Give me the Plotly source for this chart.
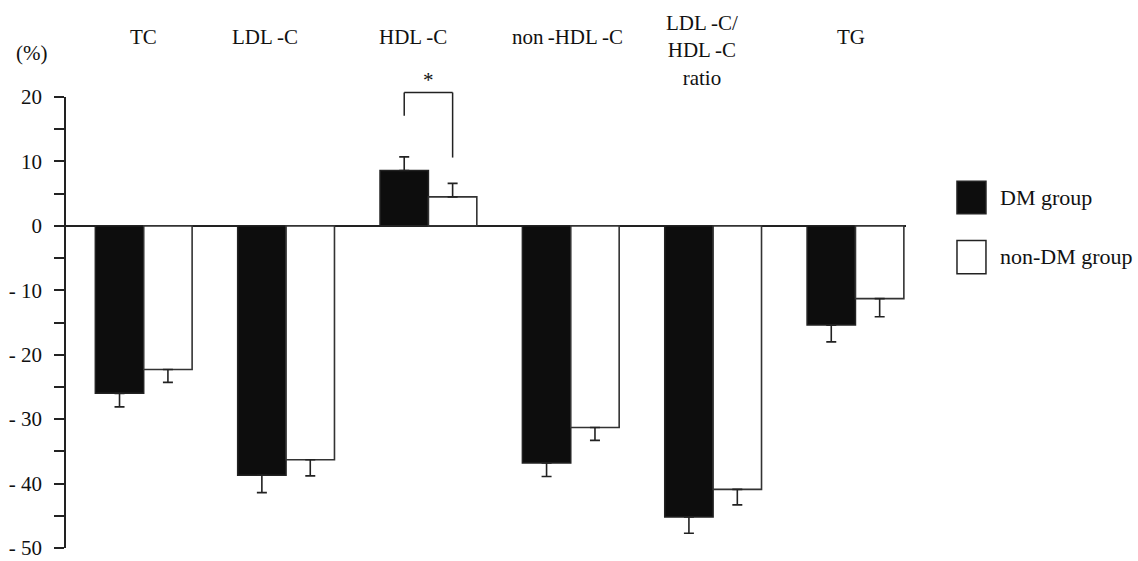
import plotly.graph_objects as go

categories = ["TC", "LDL-C", "HDL-C", "non-HDL-C", "LDL-C/HDL-C ratio", "TG"]
label_texts = ["TC", "LDL\u2009-C", "HDL\u2009-C", "non\u2009-HDL\u2009-C",
               "LDL\u2009-C/<br>HDL\u2009-C<br>ratio", "TG"]
dm_values = [-26.0, -38.7, 8.6, -36.8, -45.2, -15.4]
dm_errors = [2.1, 2.7, 2.1, 2.1, 2.5, 2.6]
nondm_values = [-22.3, -36.3, 4.5, -31.3, -40.9, -11.3]
nondm_errors = [2.0, 2.5, 2.1, 2.0, 2.4, 2.8]
y_ticks = [20, 10, 0, -10, -20, -30, -40, -50]
y_ticktext = ["20", "10", "0", "- 10", "- 20", "- 30", "- 40", "- 50"]
Y_MIN, Y_MAX = -50, 20

FONT = "Liberation Serif, Times New Roman, DejaVu Serif, serif"


def one_sided(values, errors):
    up = [e if v > 0 else 0 for v, e in zip(values, errors)]
    down = [e if v < 0 else 0 for v, e in zip(values, errors)]
    return up, down


dm_up, dm_down = one_sided(dm_values, dm_errors)
nd_up, nd_down = one_sided(nondm_values, nondm_errors)

xs = list(range(len(categories)))

fig = go.Figure()
fig.add_trace(go.Bar(
    x=xs, y=dm_values, name="DM group",
    marker=dict(color="#0d0d0d", line=dict(color="#222222", width=1.5)),
    error_y=dict(type="data", symmetric=False, array=dm_up, arrayminus=dm_down,
                 color="#222222", thickness=1.6, width=5),
    showlegend=False,
))
fig.add_trace(go.Bar(
    x=xs, y=nondm_values, name="non-DM group",
    marker=dict(color="#ffffff", line=dict(color="#333333", width=1.6)),
    error_y=dict(type="data", symmetric=False, array=nd_up, arrayminus=nd_down,
                 color="#222222", thickness=1.6, width=5),
    showlegend=False,
))

# category labels on top
label_shift = [0, -21, -15, -3, -11, -4]
label_y = [1.132, 1.132, 1.132, 1.132, 1.104, 1.132]
for i, (t, sh, ly) in enumerate(zip(label_texts, label_shift, label_y)):
    fig.add_annotation(x=xs[i], y=ly, xref="x", yref="paper", text=t,
                       showarrow=False, xshift=sh, yanchor="middle",
                       font=dict(family=FONT, size=21, color="#111111"))

fig.add_annotation(x=-0.041, y=1.098, xref="paper", yref="paper", text="(%)",
                   showarrow=False, xanchor="center", yanchor="middle",
                   font=dict(family=FONT, size=21, color="#111111"))


# significance bracket over HDL-C
def dom(v):
    return (v - Y_MIN) / (Y_MAX - Y_MIN)


hdl = categories.index("HDL-C")
half = 0.17
br_left_low, br_top, br_right_low = 17.1, 20.7, 10.6
line_style = dict(color="#222222", width=1.5)
fig.add_shape(type="line", xref="x", yref="y domain", x0=hdl - half, x1=hdl - half,
              y0=dom(br_left_low), y1=dom(br_top), line=line_style)
fig.add_shape(type="line", xref="x", yref="y domain", x0=hdl - half, x1=hdl + half,
              y0=dom(br_top), y1=dom(br_top), line=line_style)
fig.add_shape(type="line", xref="x", yref="y domain", x0=hdl + half, x1=hdl + half,
              y0=dom(br_top), y1=dom(br_right_low), line=line_style)
fig.add_annotation(x=hdl, y=dom(22.6), xref="x", yref="y domain", text="*",
                   showarrow=False, yanchor="middle",
                   font=dict(family=FONT, size=21, color="#111111"))

# manual legend
legend_items = [("DM group", "#0d0d0d", 0.813, 0.741, 0.777),
                ("non-DM group", "#ffffff", 0.682, 0.608, 0.646)]
for name, col, yt, yb, yc in legend_items:
    fig.add_shape(type="rect", xref="paper", yref="paper", x0=1.0607, x1=1.0952,
                  y0=yb, y1=yt, fillcolor=col, line=dict(color="#222222", width=1.5))
    fig.add_annotation(x=1.1095, y=yc, xref="paper", yref="paper", text=name,
                       showarrow=False, xanchor="left", yanchor="middle",
                       font=dict(family=FONT, size=22, color="#111111"))

fig.update_layout(
    width=1138, height=561,
    margin=dict(l=66, r=232, t=97, b=13, autoexpand=False),
    paper_bgcolor="white", plot_bgcolor="white",
    barmode="group", bargap=0.32, bargroupgap=0,
    font=dict(family=FONT, size=21, color="#111111"),
)
fig.update_xaxes(range=[-0.546, 5.355], showticklabels=False, showgrid=False,
                 zeroline=False, showline=False, ticks="", automargin=False)
fig.update_yaxes(range=[Y_MIN, Y_MAX], tickvals=y_ticks, ticktext=y_ticktext,
                 automargin=False,
                 showgrid=False, zeroline=True, zerolinecolor="#222222", zerolinewidth=1.5,
                 showline=True, linecolor="#222222", linewidth=1.6,
                 ticks="outside", ticklen=10, tickwidth=1.5, tickcolor="#222222",
                 ticklabelstandoff=8,
                 minor=dict(dtick=5, tick0=0, ticks="outside", ticklen=10,
                            tickwidth=1.5, tickcolor="#222222"),
                 tickfont=dict(family=FONT, size=21, color="#111111"))

fig.write_html(
    "out.html",
    config={"displayModeBar": False},
    post_script="document.body.style.margin='0';document.body.style.padding='0';"
                "document.body.style.overflow='hidden';",
)
